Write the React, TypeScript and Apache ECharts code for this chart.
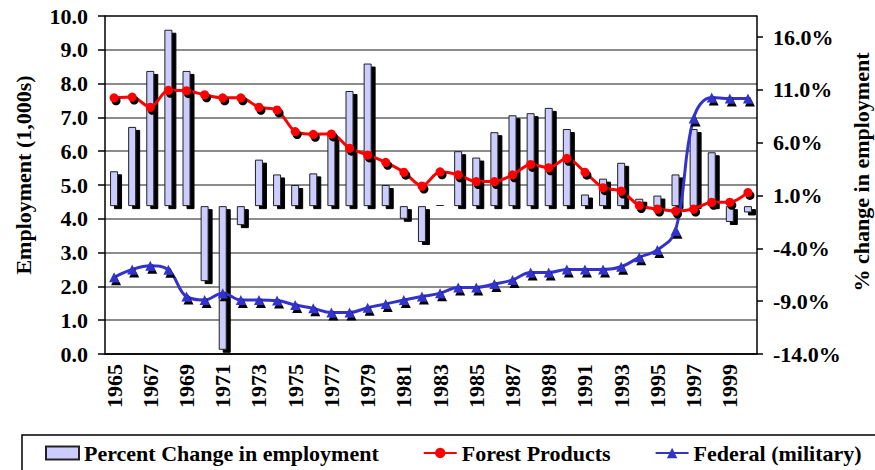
import React, { useEffect, useRef } from 'react';
import * as echarts from 'echarts';

const years = [
  '1965', '1966', '1967', '1968', '1969', '1970', '1971', '1972', '1973', '1974',
  '1975', '1976', '1977', '1978', '1979', '1980', '1981', '1982', '1983', '1984',
  '1985', '1986', '1987', '1988', '1989', '1990', '1991', '1992', '1993', '1994',
  '1995', '1996', '1997', '1998', '1999', '2000',
];

// % change in employment (right axis)
const percentChange = [
  3.3, 7.5, 12.8, 16.7, 12.8, -7.1, -13.6, -1.8, 4.4, 3.0,
  2.0, 3.1, 6.7, 10.9, 13.5, 2.0, -1.2, -3.4, 0.1, 5.2,
  4.6, 7.0, 8.6, 8.8, 9.3, 7.3, 1.1, 2.6, 4.1, 0.7,
  1.0, 3.0, 7.3, 5.1, -1.5, -0.6,
];

// Employment (1,000s), left axis
const forestProducts = [
  7.58, 7.6, 7.3, 7.8, 7.79, 7.67, 7.58, 7.58, 7.3, 7.22,
  6.58, 6.5, 6.51, 6.09, 5.89, 5.67, 5.38, 4.97, 5.39, 5.3,
  5.1, 5.1, 5.3, 5.61, 5.51, 5.79, 5.38, 4.92, 4.82, 4.39,
  4.29, 4.23, 4.29, 4.49, 4.49, 4.78,
];

const federalMilitary = [
  2.27, 2.5, 2.61, 2.49, 1.7, 1.6, 1.8, 1.6, 1.6, 1.58,
  1.45, 1.35, 1.23, 1.23, 1.37, 1.48, 1.6, 1.7, 1.8, 1.97,
  1.97, 2.07, 2.19, 2.41, 2.41, 2.5, 2.5, 2.5, 2.58, 2.86,
  3.08, 3.65, 6.97, 7.59, 7.56, 7.56,
];

const rightTickValues = [-14, -9, -4, 1, 6, 11, 16];

const seriesNames = ['Percent Change in employment', 'Forest Products', 'Federal (military)'];
const axisTitles = ['Employment (1,000s)', '% change in employment'];

const FONT = "'Liberation Serif', 'Times New Roman', serif";

export default function App() {
  const ref = useRef<HTMLDivElement>(null);

  useEffect(() => {
    const chart = echarts.init(ref.current!, null, { renderer: 'svg' });
    const txt = { fontFamily: FONT, fontWeight: 'bold' as const, fontSize: 22, color: '#000' };
    const noShadow = { shadowColor: 'rgba(0,0,0,0)', shadowOffsetX: 0, shadowOffsetY: 0, shadowBlur: 0 };

    chart.setOption({
      animation: false,
      grid: { left: 105, right: 118, top: 16, bottom: 116 },
      legend: {
        left: 40,
        top: 437,
        itemWidth: 33,
        itemHeight: 13,
        itemGap: 44,
        textStyle: { ...txt },
        data: [
          { name: seriesNames[0], icon: 'rect', itemStyle: { ...noShadow } },
          { name: seriesNames[1], itemStyle: { ...noShadow } },
          { name: seriesNames[2], itemStyle: { ...noShadow } },
        ],
      },
      xAxis: {
        type: 'category',
        data: years,
        boundaryGap: true,
        axisLine: { lineStyle: { color: '#000', width: 1.5 } },
        axisTick: { interval: 0, length: 6, lineStyle: { color: '#000', width: 1.5 } },
        axisLabel: { ...txt, rotate: 90, interval: 1, margin: 10 },
        splitLine: { show: false },
      },
      yAxis: [
        {
          type: 'value',
          min: 0,
          max: 10,
          interval: 1,
          axisLine: { show: true, lineStyle: { color: '#000', width: 1.5 } },
          axisTick: { show: true, length: 7, lineStyle: { color: '#000', width: 1.5 } },
          axisLabel: { ...txt, margin: 17, formatter: (v: number) => v.toFixed(1) },
          splitLine: {
            show: true,
            lineStyle: { color: ['#000', '#666', '#666', '#666', '#666', '#666', '#666', '#666', '#666', '#666', '#000'], width: 1.5 },
          },
        },
        {
          type: 'value',
          position: 'right',
          min: -14,
          max: 18,
          interval: 5,
          axisLine: { show: true, lineStyle: { color: '#000', width: 1.5 } },
          axisTick: { show: true, length: 6, customValues: rightTickValues, lineStyle: { color: '#000', width: 1.5 } },
          axisLabel: {
            ...txt,
            margin: 16,
            customValues: rightTickValues,
            formatter: (v: number) => (v > 16 ? '' : v.toFixed(1) + '%'),
          },
          splitLine: { show: false },
        },
      ],
      series: [
        {
          name: seriesNames[0],
          type: 'bar',
          yAxisIndex: 1,
          data: percentChange,
          barWidth: 8,
          itemStyle: {
            color: '#ccccff',
            borderColor: '#222',
            borderWidth: 1,
            shadowColor: '#000',
            shadowOffsetX: 4,
            shadowOffsetY: 3,
            shadowBlur: 0,
          },
          z: 2,
        },
        {
          name: seriesNames[2],
          type: 'line',
          yAxisIndex: 0,
          data: federalMilitary,
          smooth: 0.4,
          symbol: 'triangle',
          symbolSize: 10,
          lineStyle: { color: '#3333cc', width: 3 },
          itemStyle: {
            color: '#3333cc',
            shadowColor: '#000',
            shadowOffsetX: 2,
            shadowOffsetY: 3,
            shadowBlur: 0,
          },
          z: 3,
        },
        {
          name: seriesNames[1],
          type: 'line',
          yAxisIndex: 0,
          data: forestProducts,
          smooth: 0.3,
          symbol: 'circle',
          symbolSize: 9,
          lineStyle: { color: '#ff0000', width: 3 },
          itemStyle: {
            color: '#ff0000',
            shadowColor: '#000',
            shadowOffsetX: 2,
            shadowOffsetY: 3,
            shadowBlur: 0,
          },
          z: 4,
        },
      ],
      graphic: [
        {
          type: 'text',
          x: 23,
          y: 175,
          rotation: Math.PI / 2,
          style: {
            text: axisTitles[0],
            x: 0,
            y: 0,
            align: 'center',
            verticalAlign: 'middle',
            fill: '#000',
            font: `bold 22px ${FONT}`,
          },
        },
        {
          type: 'text',
          x: 861,
          y: 172,
          rotation: Math.PI / 2,
          style: {
            text: axisTitles[1],
            x: 0,
            y: 0,
            align: 'center',
            verticalAlign: 'middle',
            fill: '#000',
            font: `bold 22px ${FONT}`,
          },
        },
        {
          type: 'rect',
          shape: { x: 22, y: 435, width: 900, height: 80 },
          style: { fill: 'none', stroke: '#000', lineWidth: 1.5 },
          z: -1,
        },
      ],
    });

    return () => chart.dispose();
  }, []);

  return (
    <div
      ref={ref}
      style={{ position: 'fixed', left: 0, top: 0, width: 875, height: 470, background: '#fff' }}
    />
  );
}
